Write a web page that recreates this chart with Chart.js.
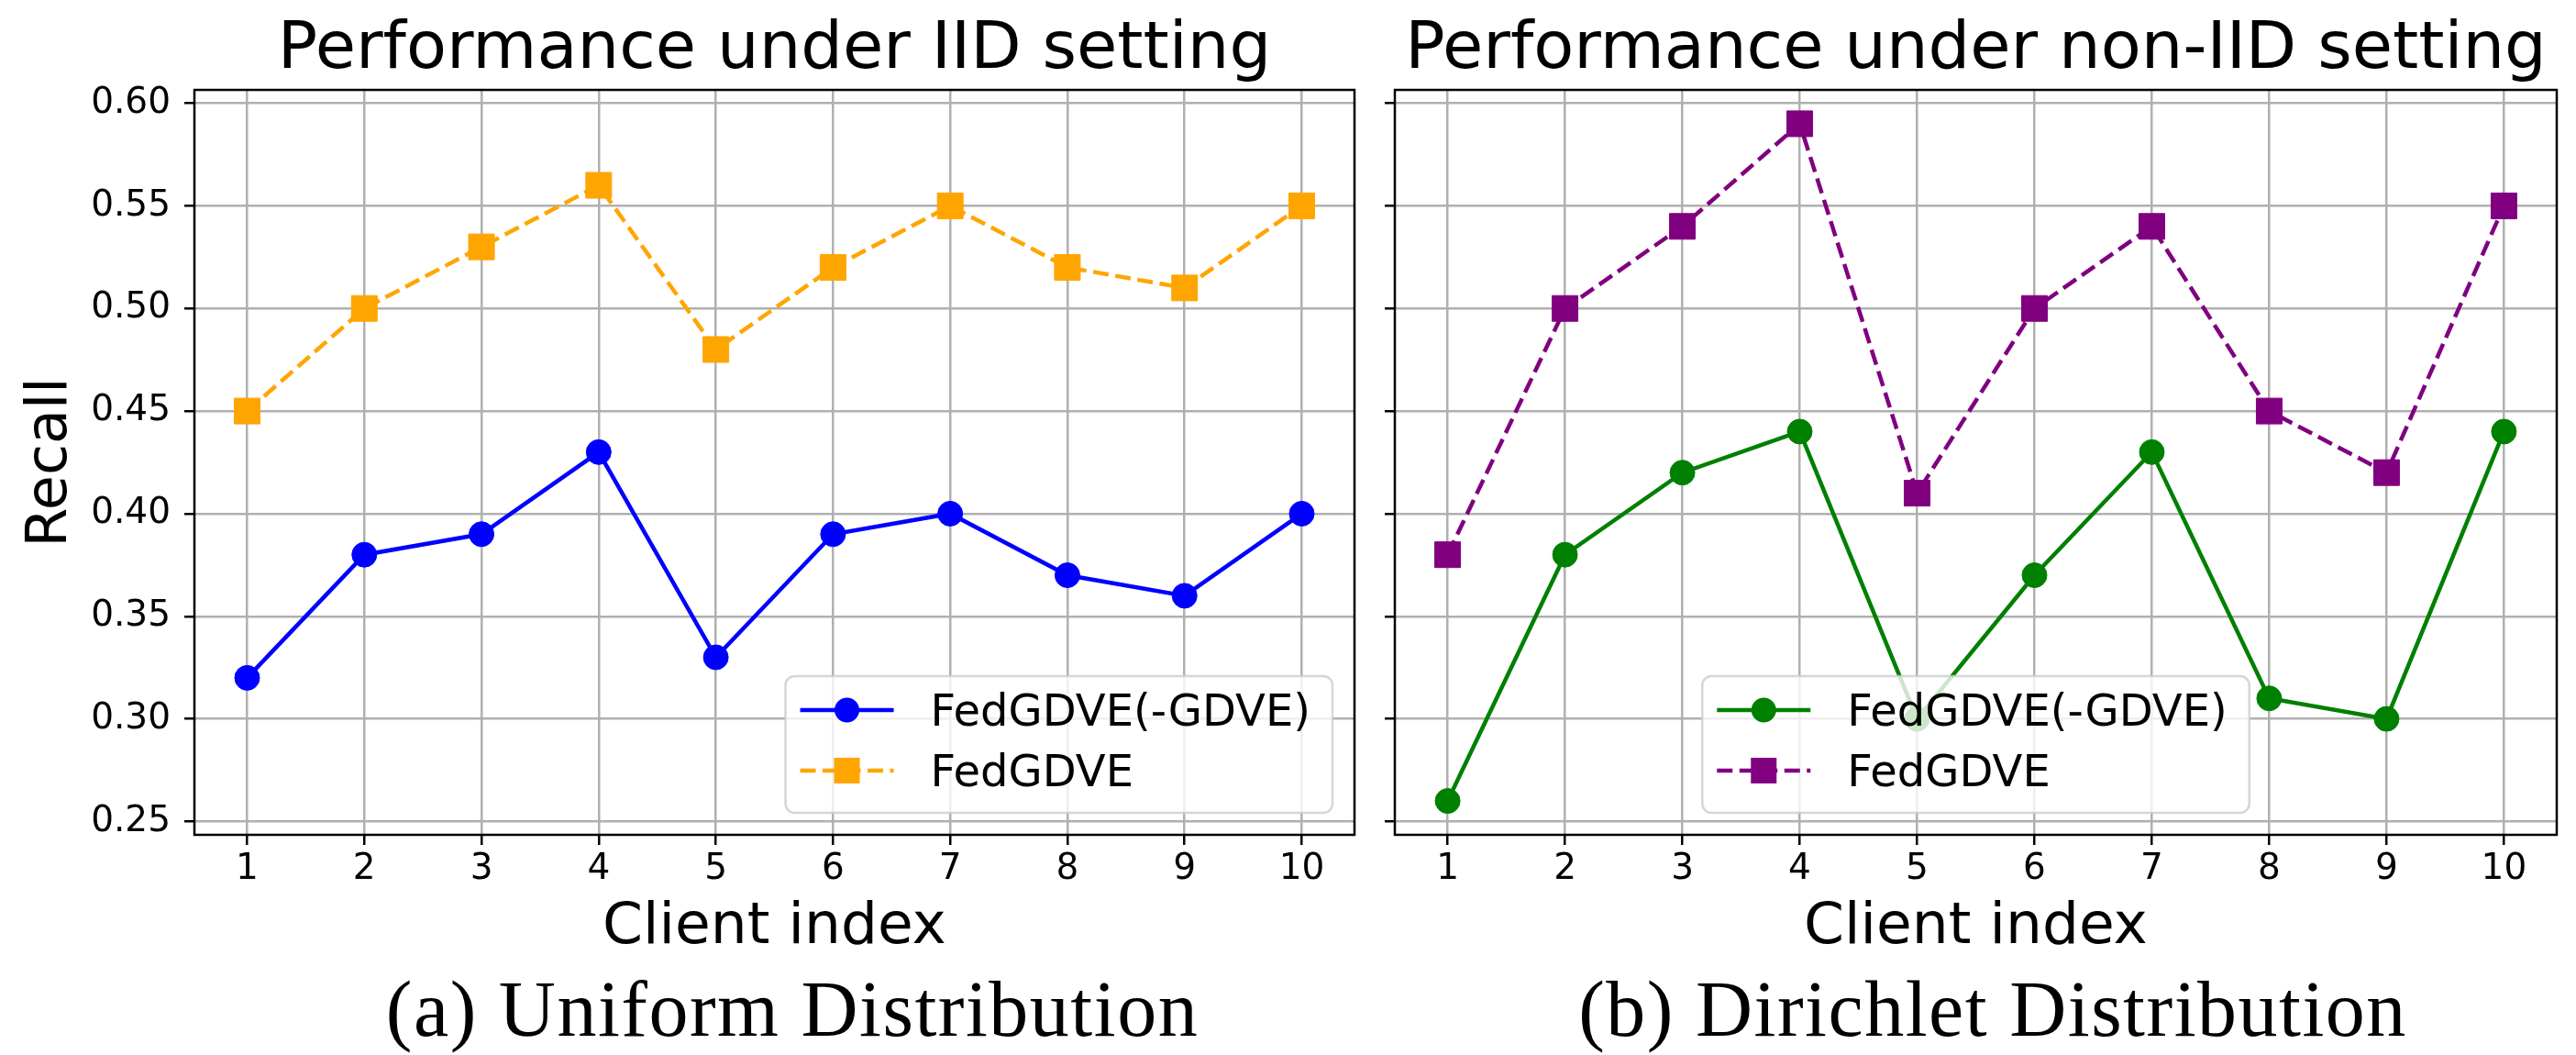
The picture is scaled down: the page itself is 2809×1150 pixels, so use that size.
<!DOCTYPE html>
<html>
<head>
<meta charset="utf-8">
<title>Recall per client</title>
<script src="https://cdn.jsdelivr.net/npm/chart.js@4"></script>
<style>
  body { margin: 0; background: #fff; width: 2809px; height: 1150px; overflow: hidden; position: relative; }
  canvas { position: absolute; top: 0; }
  .caption { position: absolute; width: 1100px; text-align: center; font-family: "Liberation Serif", serif;
             font-size: 86px; line-height: 86px; letter-spacing: 1.5px; color: #000; white-space: nowrap; }
</style>
</head>
<body>
<canvas id="iidChart" width="1500" height="1150" style="left:0px"></canvas>
<canvas id="nonIidChart" width="1309" height="1150" style="left:1500px"></canvas>
<div class="caption" style="left:314px; top:1057px">(a) Uniform Distribution</div>
<div class="caption" style="left:1623px; top:1057px">(b) Dirichlet Distribution</div>

<script>
// values
const clients = [1, 2, 3, 4, 5, 6, 7, 8, 9, 10];
const yTickValues = [0.25, 0.30, 0.35, 0.40, 0.45, 0.50, 0.55, 0.60];

const iidWithoutGdve = [0.32, 0.38, 0.39, 0.43, 0.33, 0.39, 0.40, 0.37, 0.36, 0.40];
const iidFedGdve = [0.45, 0.50, 0.53, 0.56, 0.48, 0.52, 0.55, 0.52, 0.51, 0.55];

const nonIidWithoutGdve = [0.26, 0.38, 0.42, 0.44, 0.30, 0.37, 0.43, 0.31, 0.30, 0.44];
const nonIidFedGdve = [0.38, 0.50, 0.54, 0.59, 0.41, 0.50, 0.54, 0.45, 0.42, 0.55];

const seriesNames = ['FedGDVE(-GDVE)', 'FedGDVE'];

const FONT = 'DejaVu Sans';
const GRID = '#b0b0b0';

// box round the plot (all four spines)
const axesFrame = {
    id: 'axesFrame',
    beforeDatasetsDraw(chart) {
        const ctx = chart.ctx;
        const a = chart.chartArea;
        ctx.save();
        ctx.strokeStyle = '#000';
        ctx.lineWidth = 2.5;
        ctx.strokeRect(a.left, a.top, a.right - a.left, a.bottom - a.top);
        ctx.restore();
    }
};

// matplotlib-like legend drawn inside the plot area
const insideLegend = {
    id: 'insideLegend',
    afterDatasetsDraw(chart, args, opts) {
        const ctx = chart.ctx;
        const a = chart.chartArea;
        const sets = chart.data.datasets;
        ctx.save();
        ctx.font = '48px "' + FONT + '"';
        let textW = 0;
        sets.forEach(d => { textW = Math.max(textW, ctx.measureText(d.label).width); });
        const w = 158 + textW + 24;
        const h = 149;
        let x;
        if (opts.loc === 'lower right') {
            x = a.right - 24 - w;
        } else {
            x = (a.left + a.right) / 2 - w / 2;
        }
        const y = a.bottom - 24 - h;

        ctx.beginPath();
        ctx.roundRect(x, y, w, h, 10);
        ctx.fillStyle = 'rgba(255,255,255,0.8)';
        ctx.fill();
        ctx.strokeStyle = 'rgba(204,204,204,0.8)';
        ctx.lineWidth = 2.5;
        ctx.stroke();

        sets.forEach((d, i) => {
            const base = y + 54 + i * 66;
            const mid = base - 17;
            ctx.strokeStyle = d.borderColor;
            ctx.lineWidth = d.borderWidth;
            ctx.setLineDash(d.borderDash || []);
            ctx.beginPath();
            ctx.moveTo(x + 16, mid);
            ctx.lineTo(x + 118, mid);
            ctx.stroke();
            ctx.setLineDash([]);
            ctx.fillStyle = d.pointBackgroundColor;
            const cx = x + 67;
            if (d.pointStyle === 'rect') {
                ctx.fillRect(cx - 14, mid - 14, 28, 28);
            } else {
                ctx.beginPath();
                ctx.arc(cx, mid, 13.5, 0, Math.PI * 2);
                ctx.fill();
            }
            ctx.fillStyle = '#000';
            ctx.textAlign = 'left';
            ctx.textBaseline = 'alphabetic';
            ctx.fillText(d.label, x + 158, base);
        });
        ctx.restore();
    }
};

function makeSeries(values, label, color, marker, dashed) {
    return {
        label: label,
        data: clients.map((c, i) => ({ x: c, y: values[i] })),
        borderColor: color,
        backgroundColor: color,
        borderWidth: 4.5,
        borderDash: dashed ? [17, 7.5] : [],
        pointStyle: marker,
        pointRadius: marker === 'rect' ? 19.8 : 13.5,
        pointBackgroundColor: color,
        pointBorderColor: color,
        pointBorderWidth: 1,
        tension: 0,
        fill: false
    };
}

function makeChart(canvasId, cfg) {
    const ctx = document.getElementById(canvasId).getContext('2d');
    return new Chart(ctx, {
        type: 'line',
        data: {
            datasets: [
                Object.assign(makeSeries(cfg.baseline, seriesNames[0], cfg.colors[0], 'circle', false), { order: 1 }),
                Object.assign(makeSeries(cfg.full, seriesNames[1], cfg.colors[1], 'rect', true), { order: 0 })
            ]
        },
        options: {
            responsive: false,
            animation: false,
            devicePixelRatio: 1,
            layout: { padding: { left: 0, top: 0, right: cfg.padRight, bottom: 105 } },
            plugins: {
                legend: { display: false },
                tooltip: { enabled: false },
                insideLegend: { loc: cfg.legendLoc },
                title: {
                    display: true,
                    text: cfg.title,
                    fullSize: false,
                    color: '#000',
                    font: { family: FONT, size: 72, weight: 'normal', lineHeight: 1 },
                    padding: { top: 19, bottom: 7 }
                }
            },
            scales: {
                x: {
                    type: 'linear',
                    min: 0.55,
                    max: 10.45,
                    bounds: 'data',
                    afterBuildTicks: s => { s.ticks = clients.map(v => ({ value: v })); },
                    afterFit: s => { s.height = 135; },
                    ticks: {
                        color: '#000',
                        padding: 3,
                        maxRotation: 0,
                        autoSkip: false,
                        font: { family: FONT, size: 39 },
                        callback: v => String(v)
                    },
                    grid: { color: GRID, lineWidth: 2.5, tickColor: '#000', tickWidth: 2.5, tickLength: 11 },
                    border: { display: false },
                    title: {
                        display: true,
                        text: 'Client index',
                        color: '#000',
                        font: { family: FONT, size: 63, lineHeight: 1 },
                        padding: { top: 0, bottom: 2 }
                    }
                },
                y: {
                    type: 'linear',
                    min: 0.2435,
                    max: 0.6065,
                    bounds: 'data',
                    afterBuildTicks: s => { s.ticks = yTickValues.map(v => ({ value: v })); },
                    afterFit: s => { s.width = cfg.yWidth; },
                    ticks: {
                        color: '#000',
                        padding: 15,
                        autoSkip: false,
                        font: { family: FONT, size: 39 },
                        callback: v => cfg.yLabels ? Number(v).toFixed(2) : ''
                    },
                    grid: { color: GRID, lineWidth: 2.5, tickColor: '#000', tickWidth: 2.5, tickLength: 11 },
                    border: { display: false },
                    title: {
                        display: cfg.yLabels,
                        text: 'Recall',
                        color: '#000',
                        font: { family: FONT, size: 62, lineHeight: 1 },
                        padding: { top: 25, bottom: 0 }
                    }
                }
            }
        },
        plugins: [axesFrame, insideLegend]
    });
}

window.onload = function() {
    makeChart('iidChart', {
        title: 'Performance under IID setting',
        baseline: iidWithoutGdve,
        full: iidFedGdve,
        colors: ['#0000ff', '#ffa500'],
        legendLoc: 'lower right',
        yWidth: 212,
        yLabels: true,
        padRight: 23
    });
    makeChart('nonIidChart', {
        title: 'Performance under non-IID setting',
        baseline: nonIidWithoutGdve,
        full: nonIidFedGdve,
        colors: ['#008000', '#800080'],
        legendLoc: 'lower center',
        yWidth: 21,
        yLabels: false,
        padRight: 21
    });
}
</script>
</body>
</html>
